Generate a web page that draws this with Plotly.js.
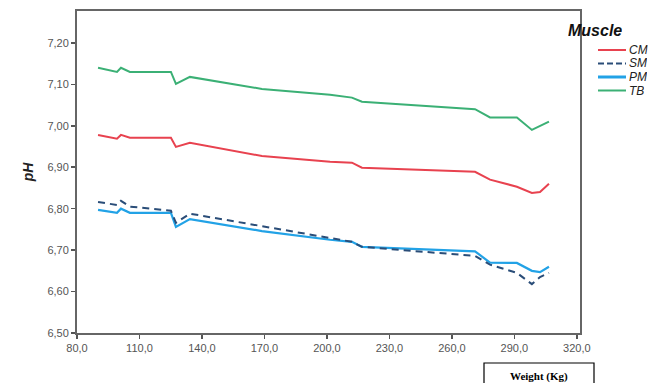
<!DOCTYPE html>
<html>
<head>
<meta charset="utf-8">
<script src="https://cdn.plot.ly/plotly-3.0.1.min.js"></script>
<style>html,body{margin:0;padding:0;background:#fff;}#chart{width:664px;height:383px;}</style>
</head>
<body>
<div id="chart"></div>
<script>
// Weight (Kg) positions of the measured points
const weight = [90.1, 99.2, 101.1, 105.4, 125.1, 127.5, 134.2, 168.8, 201.5, 212.0, 216.8, 271.1, 278.3, 291.2, 298.4, 302.3, 306.6];
// pH per muscle
const phCM = [6.978, 6.969, 6.978, 6.971, 6.971, 6.949, 6.959, 6.927, 6.913, 6.911, 6.899, 6.889, 6.870, 6.853, 6.838, 6.840, 6.860];
const phSM = [6.816, 6.809, 6.819, 6.805, 6.795, 6.766, 6.788, 6.757, 6.728, 6.720, 6.708, 6.686, 6.665, 6.645, 6.618, 6.635, 6.645];
const phPM = [6.797, 6.790, 6.800, 6.790, 6.790, 6.756, 6.775, 6.746, 6.725, 6.720, 6.708, 6.697, 6.670, 6.669, 6.650, 6.647, 6.660];
const phTB = [7.140, 7.130, 7.140, 7.130, 7.130, 7.101, 7.118, 7.089, 7.075, 7.068, 7.058, 7.040, 7.020, 7.020, 6.990, 7.000, 7.010];
const muscles = ['CM', 'SM', 'PM', 'TB'];
const xTicks = [80, 110, 140, 170, 200, 230, 260, 290, 320];
const yTicks = [6.5, 6.6, 6.7, 6.8, 6.9, 7.0, 7.1, 7.2];

const styles = {
  CM: {color: '#e8424f', width: 2, dash: 'solid'},
  SM: {color: '#2a4d78', width: 2, dash: '7px,5px'},
  PM: {color: '#22a2e6', width: 2.2, dash: 'solid'},
  TB: {color: '#3bb075', width: 2, dash: 'solid'}
};
const series = {CM: phCM, SM: phSM, PM: phPM, TB: phTB};
const order = ['TB', 'CM', 'PM', 'SM'];
const traces = order.map(m => ({
  x: weight, y: series[m], name: m, type: 'scatter', mode: 'lines',
  line: {color: styles[m].color, width: styles[m].width, dash: styles[m].dash},
  showlegend: false
}));

// plot area geometry in pixels (for legend placement in paper coords)
const L = 77, R = 580, T = 11, B = 333;
const px = v => (v - L) / (R - L);
const py = v => (B - v) / (B - T);

const shapes = [];
const annotations = [];
annotations.push({xref: 'paper', yref: 'paper', x: px(566), y: py(30), xanchor: 'left', yanchor: 'middle',
  text: '<b><i>Muscle</i></b>', showarrow: false, height: 16, font: {family: 'Liberation Sans, Arial', size: 16, color: '#111'}});
const legY = [50, 63.5, 77, 90.5];
muscles.forEach((m, i) => {
  shapes.push({type: 'line', xref: 'paper', yref: 'paper', x0: px(598), x1: px(626), y0: py(legY[i]), y1: py(legY[i]),
    line: {color: styles[m].color, width: m === 'PM' ? 3 : 2, dash: m === 'SM' ? '6px,3px' : 'solid'}});
  annotations.push({xref: 'paper', yref: 'paper', x: px(628), y: py(legY[i]), xanchor: 'left', yanchor: 'middle',
    text: '<i>' + m + '</i>', showarrow: false, height: 12, borderpad: 0,
    font: {family: 'Liberation Sans, Arial', size: 12, color: '#222'}});
});
// x-axis title box
shapes.push({type: 'rect', xref: 'paper', yref: 'paper', x0: px(484), x1: px(594), y0: py(395), y1: py(363),
  line: {color: '#000', width: 1.2}, fillcolor: '#fff'});
annotations.push({xref: 'paper', yref: 'paper', x: px(539), y: py(376), xanchor: 'center', yanchor: 'middle',
  text: '<b>Weight (Kg)</b>', showarrow: false, font: {family: 'Liberation Serif, Times New Roman', size: 11, color: '#000'}});

const layout = {
  width: 664, height: 383,
  margin: {l: L, r: 664 - R, t: T, b: 383 - B, pad: 0},
  paper_bgcolor: '#fff', plot_bgcolor: '#fff',
  separators: ',.',
  showlegend: false,
  xaxis: {
    range: [80, 321.5], tickvals: xTicks, tickformat: '.1f',
    showgrid: false, zeroline: false,
    showline: true, linecolor: '#666', linewidth: 2, mirror: true,
    ticks: 'outside', ticklen: 4, tickwidth: 1.5, tickcolor: '#555',
    tickfont: {family: 'Liberation Sans, Arial', size: 11, color: '#555'}
  },
  yaxis: {
    range: [6.5, 7.277], tickvals: yTicks, tickformat: '.2f',
    showgrid: false, zeroline: false,
    showline: true, linecolor: '#666', linewidth: 2, mirror: true,
    ticks: 'outside', ticklen: 4, tickwidth: 1.5, tickcolor: '#555',
    tickfont: {family: 'Liberation Sans, Arial', size: 11, color: '#555'},
    title: {text: '<b><i>pH</i></b>', standoff: 10, font: {family: 'Liberation Sans, Arial', size: 14, color: '#222'}}
  },
  shapes: shapes,
  annotations: annotations
};

Plotly.newPlot('chart', traces, layout, {displayModeBar: false, staticPlot: true});
</script>
</body>
</html>
